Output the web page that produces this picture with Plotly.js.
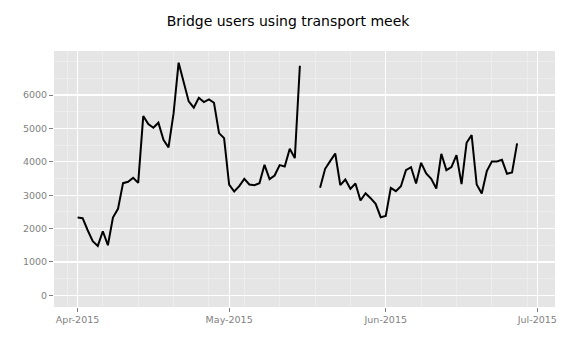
<!DOCTYPE html>
<html>
<head>
<meta charset="utf-8">
<script src="https://cdn.plot.ly/plotly-3.0.1.min.js"></script>
<style>html,body{margin:0;padding:0;background:#fff;}#chart{width:576px;height:360px;}</style>
</head>
<body>
<div id="chart"></div>
<script>
const dates = [
 "2015-04-01","2015-04-02","2015-04-03","2015-04-04","2015-04-05","2015-04-06","2015-04-07","2015-04-08","2015-04-09","2015-04-10",
 "2015-04-11","2015-04-12","2015-04-13","2015-04-14","2015-04-15","2015-04-16","2015-04-17","2015-04-18","2015-04-19","2015-04-20",
 "2015-04-21","2015-04-22","2015-04-23","2015-04-24","2015-04-25","2015-04-26","2015-04-27","2015-04-28","2015-04-29","2015-04-30",
 "2015-05-01","2015-05-02","2015-05-03","2015-05-04","2015-05-05","2015-05-06","2015-05-07","2015-05-08","2015-05-09","2015-05-10",
 "2015-05-11","2015-05-12","2015-05-13","2015-05-14","2015-05-15","2015-05-16","2015-05-17","2015-05-18","2015-05-19","2015-05-20",
 "2015-05-21","2015-05-22","2015-05-23","2015-05-24","2015-05-25","2015-05-26","2015-05-27","2015-05-28","2015-05-29","2015-05-30",
 "2015-05-31","2015-06-01","2015-06-02","2015-06-03","2015-06-04","2015-06-05","2015-06-06","2015-06-07","2015-06-08","2015-06-09",
 "2015-06-10","2015-06-11","2015-06-12","2015-06-13","2015-06-14","2015-06-15","2015-06-16","2015-06-17","2015-06-18","2015-06-19",
 "2015-06-20","2015-06-21","2015-06-22","2015-06-23","2015-06-24","2015-06-25","2015-06-26","2015-06-27"
];
const users = [
 2330, 2310, 1950, 1620, 1480, 1920, 1500, 2330, 2590, 3360,
 3400, 3520, 3370, 5370, 5130, 5020, 5170, 4660, 4430, 5450,
 6970, 6400, 5810, 5620, 5920, 5790, 5870, 5770, 4860, 4710,
 3320, 3110, 3270, 3490, 3320, 3300, 3360, 3910, 3480, 3590,
 3900, 3860, 4390, 4110, 6880, null, null, null, 3220, 3790,
 4020, 4250, 3300, 3470, 3190, 3350, 2840, 3060, 2910, 2740,
 2340, 2380, 3220, 3120, 3270, 3750, 3840, 3350, 3970, 3650,
 3490, 3200, 4240, 3750, 3840, 4200, 3330, 4570, 4800, 3320,
 3050, 3720, 4010, 4010, 4060, 3640, 3680, 4550
];
const xTickVals = ["2015-04-01","2015-05-01","2015-06-01","2015-07-01"];
const xTickText = ["Apr-2015","May-2015","Jun-2015","Jul-2015"];
const yTickVals = [0,1000,2000,3000,4000,5000,6000];
const yTickText = ["0","1000","2000","3000","4000","5000","6000"];

const font = "DejaVu Sans, sans-serif";
const trace = {
  x: dates, y: users, type: "scatter", mode: "lines",
  line: {color: "#000000", width: 2},
  connectgaps: false, hoverinfo: "skip"
};
const layout = {
  width: 576, height: 360,
  paper_bgcolor: "#ffffff", plot_bgcolor: "#E5E5E5",
  margin: {l: 54, r: 21, t: 51, b: 53, pad: 0},
  showlegend: false,
  font: {family: font, color: "#000000"},
  title: {text: "Bridge users using transport meek", x: 0.5, xref: "container",
          y: 1 - 21/360, yref: "container", yanchor: "middle", xanchor: "center",
          font: {family: font, size: 14, color: "#000000"}},
  xaxis: {
    type: "date", range: ["2015-03-27 08:00", "2015-07-04 12:00"],
    tickmode: "array", tickvals: xTickVals, ticktext: xTickText,
    ticks: "outside", ticklen: 4, tickwidth: 1, tickcolor: "#7F7F7F",
    tickfont: {family: font, size: 9.5, color: "#7F7F7F"},
    showgrid: true, gridcolor: "#FFFFFF", gridwidth: 1.2,
    minor: {tickmode: "linear", tick0: "2015-03-30", dtick: 604800000, showgrid: true,
            gridcolor: "#F2F2F2", gridwidth: 0.6, ticks: ""},
    zeroline: false, showline: false, fixedrange: true
  },
  yaxis: {
    range: [-350, 7320],
    tickmode: "array", tickvals: yTickVals, ticktext: yTickText,
    ticks: "outside", ticklen: 4, tickwidth: 1, tickcolor: "#7F7F7F",
    tickfont: {family: font, size: 9.5, color: "#7F7F7F"},
    showgrid: true, gridcolor: "#FFFFFF", gridwidth: 1.2,
    minor: {tickmode: "linear", tick0: 0, dtick: 500, showgrid: true,
            gridcolor: "#F2F2F2", gridwidth: 0.6, ticks: ""},
    zeroline: false, showline: false, fixedrange: true
  },
  annotations: [{
    text: "The Tor Project - https://metrics.torproject.org/",
    xref: "container", yref: "container", x: 0.5, y: 1 - 344/360,
    xanchor: "center", yanchor: "middle", showarrow: false,
    font: {family: font, size: 12.5, color: "#000000"}
  }]
};
Plotly.newPlot("chart", [trace], layout, {displayModeBar: false, staticPlot: true});
</script>
</body>
</html>
